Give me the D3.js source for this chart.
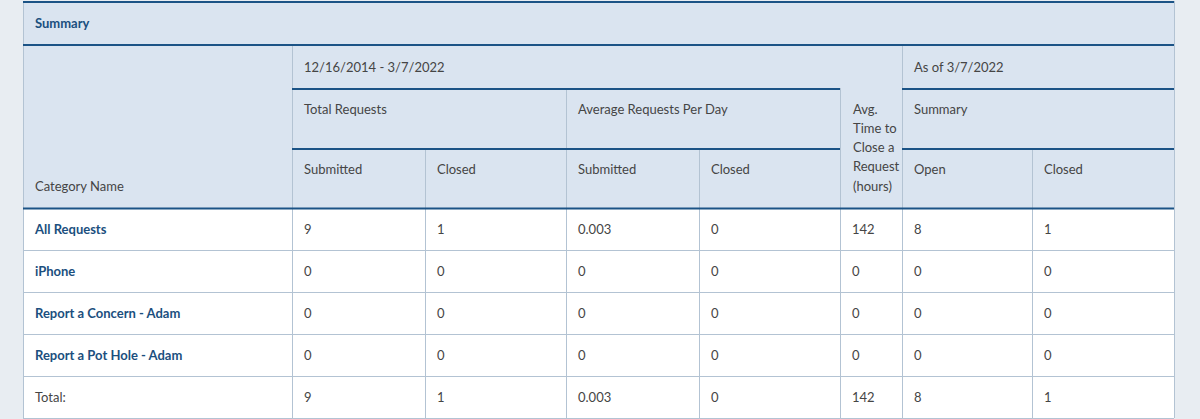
<!DOCTYPE html>
<html>
<head>
<meta charset="utf-8">
<script src="https://cdn.jsdelivr.net/npm/d3@7"></script>
<style>
  body { margin: 0; background: #e8edf2; }
  svg text { font-family: Lato, "Open Sans", sans-serif; font-size: 13px; fill: #454545; }
</style>
</head>
<body>
<svg id="chart" width="1200" height="419"></svg>
<script>
'use strict';

var categories = ['All Requests', 'iPhone', 'Report a Concern - Adam', 'Report a Pot Hole - Adam'];
var submittedCounts = ['9', '0', '0', '0'];
var closedCounts = ['1', '0', '0', '0'];
var avgSubmitted = ['0.003', '0', '0', '0'];
var avgClosed = ['0', '0', '0', '0'];
var avgHours = ['142', '0', '0', '0'];
var openNow = ['8', '0', '0', '0'];
var closedNow = ['1', '0', '0', '0'];
var totals = ['Total:', '9', '1', '0.003', '0', '142', '8', '1'];
var subHeaders = ['Submitted', 'Closed', 'Submitted', 'Closed', null, 'Open', 'Closed'];

var colEdges = [23, 292, 425, 566, 699, 840, 902, 1032, 1174];
var rowEdges = [208, 250, 292, 334, 376, 418];
var DARK = '#1b5386', THIN = '#b3c3d3', HEAD = '#dae4f0';

var svg = d3.select('#chart');
var x0 = colEdges[0], x1 = colEdges[colEdges.length - 1];

function hline(y, xa, xb, color, w) {
    svg.append('line').attr('x1', xa).attr('x2', xb).attr('y1', y).attr('y2', y)
        .attr('stroke', color).attr('stroke-width', w);
}
function vline(x, ya, yb) {
    svg.append('line').attr('x1', x).attr('x2', x).attr('y1', ya).attr('y2', yb)
        .attr('stroke', THIN).attr('stroke-width', 1);
}
function label(x, y, t, opts) {
    opts = opts || {};
    return svg.append('text').attr('x', x).attr('y', y).attr('dy', '0.35em')
        .style('font-weight', opts.bold ? 700 : 400)
        .style('fill', opts.color || '#454545')
        .text(t);
}

// header background
svg.append('rect').attr('x', x0).attr('y', 1).attr('width', x1 - x0).attr('height', 207).attr('fill', HEAD);
svg.append('rect').attr('x', x0).attr('y', 208).attr('width', x1 - x0).attr('height', 210).attr('fill', '#fff');

// vertical lines
vline(x0 + 0.5, 1, 418);
vline(x1 + 0.5, 1, 418);
colEdges.slice(1, -1).forEach(function(x) {
    var top = 44;
    if (x === 425 || x === 699 || x === 1032) top = 148;
    else if (x === 566 || x === 840) top = 88;
    vline(x + 0.5, top, 418);
});

// body rows
var rows = categories.map(function(c, i) {
    return [c, submittedCounts[i], closedCounts[i], avgSubmitted[i], avgClosed[i], avgHours[i], openNow[i], closedNow[i]];
});
rows.push(totals);
rows.forEach(function(r, i) {
    var yMid = (rowEdges[i] + rowEdges[i + 1]) / 2;
    r.forEach(function(v, j) {
        var isName = j === 0 && i < categories.length;
        label(colEdges[j] + 12, yMid, v, { bold: isName, color: isName ? '#1b4f7e' : null });
    });
    if (i > 0) hline(rowEdges[i] + 0.5, x0, x1, THIN, 1);
});
hline(418.5, x0, x1, THIN, 1);

// header lines
hline(2, x0, x1, DARK, 2);
hline(45, x0, x1, DARK, 2);
hline(89, 292, 840, DARK, 2);
hline(89, 902, x1, DARK, 2);
hline(149, 292, 840, DARK, 2);
hline(149, 902, x1, DARK, 2);
hline(208.5, x0, x1, DARK, 2);

// header texts
label(35, 23, 'Summary', { bold: true, color: '#1b4f7e' });
label(304, 67, '12/16/2014 - 3/7/2022');
label(914, 67, 'As of 3/7/2022');
label(304, 109, 'Total Requests');
label(578, 109, 'Average Requests Per Day');
label(914, 109, 'Summary');
label(35, 186, 'Category Name');
subHeaders.forEach(function(h, j) {
    if (h) label(colEdges[j + 1] + 12, 169, h);
});
['Avg.', 'Time to', 'Close a', 'Request', '(hours)'].forEach(function(t, k) {
    label(853, 109 + k * 19.3, t);
});
</script>
</body>
</html>
